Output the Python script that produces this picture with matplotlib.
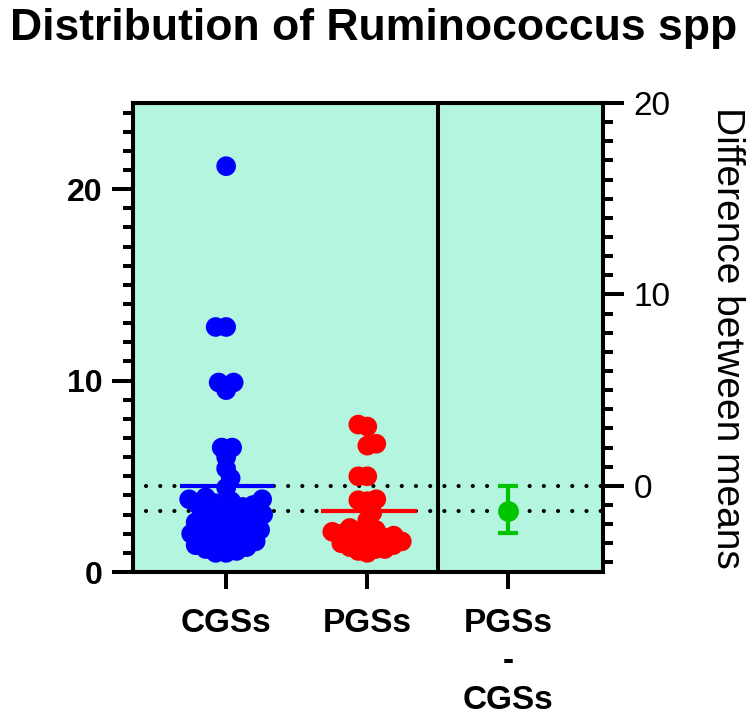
import numpy as np
import matplotlib
matplotlib.use("Agg")
import matplotlib.pyplot as plt
from matplotlib.ticker import MultipleLocator, FixedLocator

# group labels on the x axis
groups = ["CGSs", "PGSs", "PGSs\n-\nCGSs"]

# values
cgs_values = [21.2, 12.8, 12.8, 9.9, 9.9, 9.5, 6.5, 6.5, 6.0, 5.4, 4.9, 4.4,
              3.9, 3.8, 3.8, 3.7, 3.6, 3.5, 3.5, 3.4, 3.3, 3.2, 3.1, 3.0,
              2.9, 2.8, 2.8, 2.7, 2.6, 2.5, 2.4, 2.3, 2.2, 2.2, 2.1, 2.0,
              1.9, 1.8, 1.7, 1.6, 1.6, 1.5, 1.4, 1.3, 1.2, 1.1, 1.0, 1.0]
pgs_values = [7.7, 7.6, 6.7, 6.6, 5.0, 5.0, 3.8, 3.75, 3.7, 3.1, 2.7, 2.3,
              2.2, 2.1, 2.1, 2.0, 2.0, 1.9, 1.8, 1.8, 1.7, 1.6,
              1.6, 1.5, 1.5, 1.4, 1.3, 1.2, 1.2, 1.1, 1.0]
cgs_mean = 4.5
pgs_mean = 3.2
diff_mean = -1.3
diff_ci = (-2.45, 0.0)

BG = "#b3f5de"
BLUE = "#0000ff"
RED = "#ff0000"
GREEN = "#00c400"


def swarm_x(ax, xc, values, min_dist=10.0):
    # greedy beeswarm in pixel space, returns x positions in data units
    pts = ax.transData.transform(np.column_stack([np.full(len(values), xc), values]))
    ys = pts[:, 1]
    order = np.argsort(ys)
    placed = []
    offs = np.zeros(len(values))
    flip = False
    for i in order:
        found = None
        for c in np.arange(0, 120, 0.5):
            sides = [0.0] if c == 0 else ([c, -c] if flip else [-c, c])
            for s in sides:
                if all((s - px) ** 2 + (ys[i] - py) ** 2 >= min_dist ** 2 for px, py in placed):
                    found = s
                    break
            if found is not None:
                break
        if found != 0:
            flip = not flip
        placed.append((found, ys[i]))
        offs[i] = found
    x0 = ax.transData.transform([[0, 0]])[0, 0]
    x1 = ax.transData.transform([[1, 0]])[0, 0]
    return xc + offs / (x1 - x0)


plt.rcParams['font.family'] = ['Liberation Sans', 'DejaVu Sans']

fig = plt.figure(figsize=(7.5, 7.18), dpi=100)
ax = fig.add_axes([133 / 750, 146 / 718, 470 / 750, 469 / 718])
ax.set_facecolor(BG)
ax.set_xlim(0.34, 3.67)
ax.set_ylim(0, 24.5)

ax2 = ax.twinx()
ax2.set_ylim(cgs_mean * -1, 24.5 - cgs_mean)

# dotted reference lines at the two means
for m in [cgs_mean, pgs_mean]:
    ax.plot([0.43, 3.67], [m, m], color="black", lw=3, linestyle=(0, (0.01, 3.4)),
            dash_capstyle="round", zorder=1)

# separator between the two panels
ax.axvline(2.5, color="black", lw=2.9, zorder=5)

xs_c = swarm_x(ax, 1, cgs_values, 10.5)
xs_p = swarm_x(ax, 2, pgs_values, 9.0)
ax.scatter(xs_c, cgs_values, s=200, color=BLUE, edgecolors="none", zorder=3)
ax.scatter(xs_p, pgs_values, s=200, color=RED, edgecolors="none", zorder=3)

ax.plot([0.67, 1.34], [cgs_mean, cgs_mean], color=BLUE, lw=3, solid_capstyle="butt", zorder=4)
ax.plot([1.67, 2.35], [pgs_mean, pgs_mean], color=RED, lw=3, solid_capstyle="butt", zorder=4)

ax2.errorbar([3], [diff_mean],
             yerr=[[diff_mean - diff_ci[0]], [diff_ci[1] - diff_mean]],
             fmt="o", color=GREEN, ms=14, elinewidth=3, capsize=7, capthick=3, zorder=6)

for a in [ax, ax2]:
    for sp in a.spines.values():
        sp.set_linewidth(2.9)
ax.spines["right"].set_visible(False)

ax.set_xticks([1, 2, 3])
ax.set_xticklabels(groups, fontsize=24, fontweight="bold", linespacing=1.3, va="top")
ax.tick_params(axis="x", length=12, width=2.9, pad=14)
ax.yaxis.set_major_locator(FixedLocator([0, 10, 20]))
ax.yaxis.set_minor_locator(MultipleLocator(1))
ax.tick_params(axis="y", which="major", length=15, width=2.9, labelsize=23, pad=7)
ax.tick_params(axis="y", which="minor", length=7.5, width=2.9)
for lab in ax.get_yticklabels():
    lab.set_fontweight("bold")

ax2.yaxis.set_major_locator(FixedLocator([0, 10, 20]))
ax2.yaxis.set_minor_locator(MultipleLocator(1))
ax2.tick_params(axis="y", which="major", length=15, width=2.9, labelsize=24, pad=7)
ax2.tick_params(axis="y", which="minor", length=7.5, width=2.9)

fig.text(10 / 750, 1 - 40 / 718, "Distribution of Ruminococcus spp", fontsize=32,
         fontweight="bold", ha="left", va="baseline")
fig.text(727 / 750, 1 - 338 / 718, "Difference between means", fontsize=28,
         rotation=270, ha="center", va="center")

fig.savefig("out.png", dpi=100)
